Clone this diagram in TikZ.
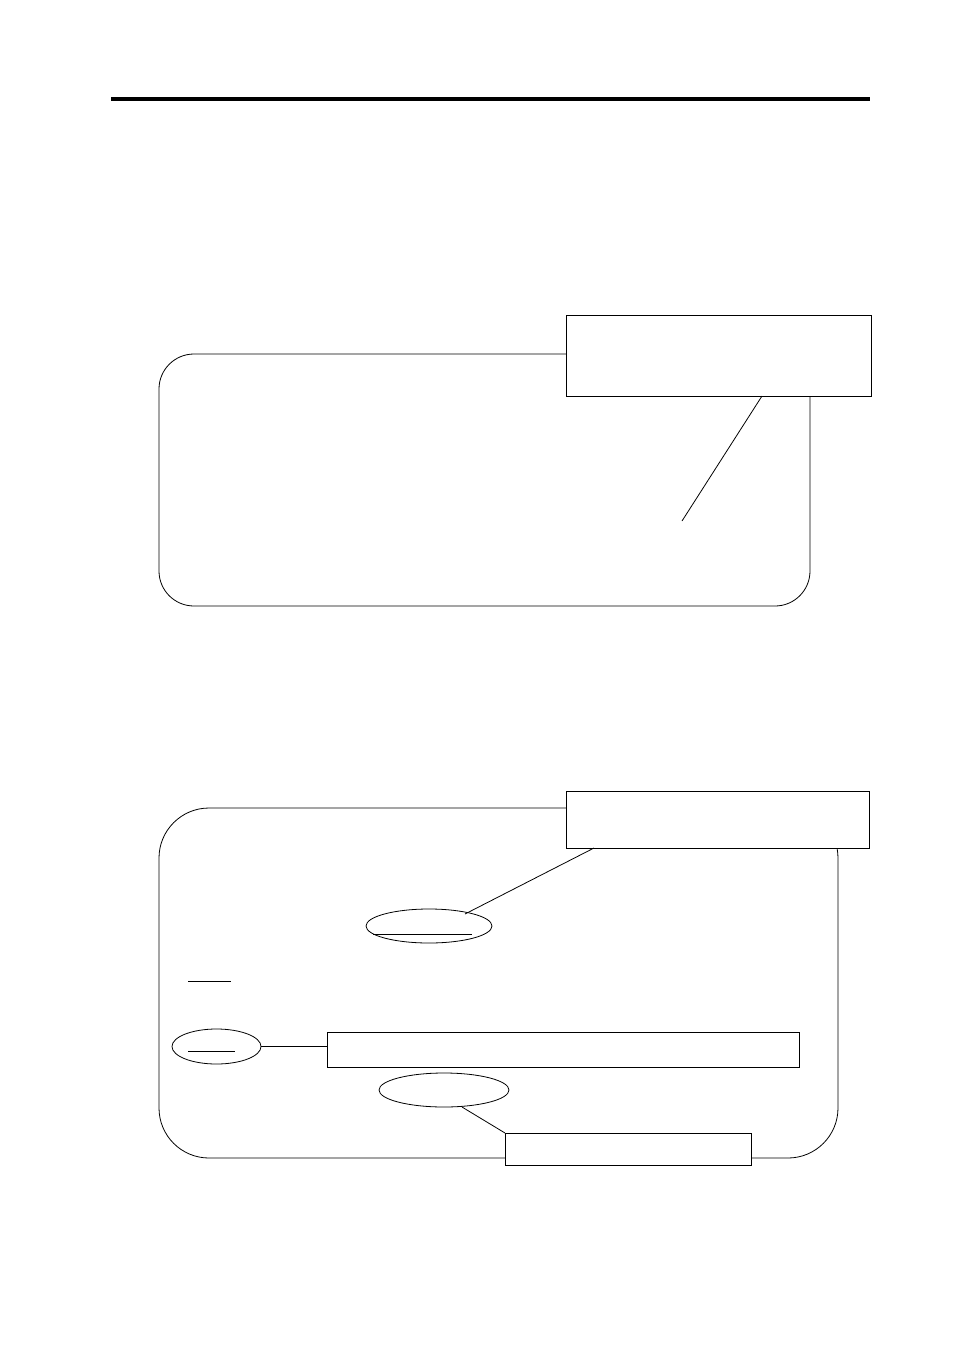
\documentclass[tikz,border=0pt]{standalone}
\usepackage{tikz}
\usetikzlibrary{positioning, calc, shapes}

\begin{document}
\begin{tikzpicture}[x = 1pt, y = -1pt, line width = 0.8pt,
	note/.style = {draw, rectangle, fill = white, inner sep = 0pt, outer sep = 0pt},
	oval/.style = {draw, ellipse, fill = white, inner sep = 0pt, outer sep = 0pt},
	frame/.style = {draw, rounded corners = #1}]
\useasboundingbox (0,0) rectangle (954,1350);
\draw[line width = 4pt] (111,99) -- (870,99);

\draw[frame = 35pt] (159,354) rectangle (810,606);
\node[note, minimum width = 305pt, minimum height = 81pt] (n1) at (718.5,355.5) {};
\coordinate (t1) at (682,521);
\draw (n1.south) ++(43.5pt,0) coordinate (s1) -- (t1);

\draw[frame = 50pt] (159,808) rectangle (838,1158);
\node[note, minimum width = 303pt, minimum height = 57pt] (n2) at (717.5,819.5) {};
\node[oval, minimum width = 126pt, minimum height = 34pt] (a) at (429,926) {};
\draw ([xshift = -56pt, yshift = -8pt]a.center) -- ([xshift = 43pt, yshift = -8pt]a.center);
\draw ([xshift = -123.5pt]n2.south) -- ([xshift = 36pt, yshift = 12pt]a.center);

\draw (188,981) -- (231,981);

\node[oval, minimum width = 89pt, minimum height = 35pt] (c) at (216.5,1046.5) {};
\draw ([xshift = -28.5pt, yshift = -4.5pt]c.center) -- ([xshift = 18.5pt, yshift = -4.5pt]c.center);
\node[note, minimum width = 472pt, minimum height = 35pt, right = 66.5pt of c, yshift = -3pt] (bar) {};
\draw (c.east) -- (c.east -| bar.west);

\node[oval, minimum width = 130pt, minimum height = 34pt] (d) at (444,1090) {};
\node[note, minimum width = 246pt, minimum height = 32pt] (n4) at (628,1149) {};
\draw ([xshift = 18pt]d.south) -- (n4.north west);
\end{tikzpicture}
\end{document}
